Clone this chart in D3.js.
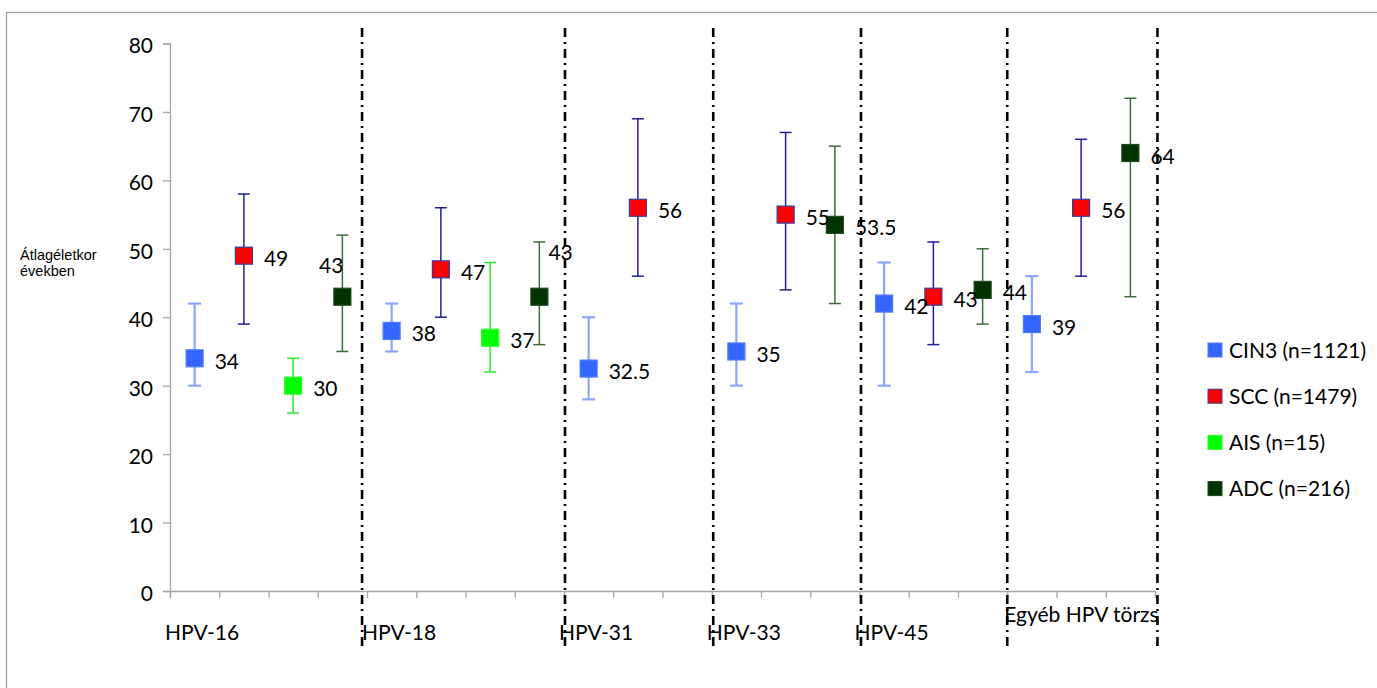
<!DOCTYPE html>
<html><head><meta charset="utf-8">
<script src="https://cdn.jsdelivr.net/npm/d3@7"></script>
<style>body{margin:0;background:#fff} svg{display:block}</style>
</head><body><svg id="c" width="1377" height="688"></svg>
<script>
// ---------- data ----------
const groups = ["HPV-16", "HPV-18", "HPV-31", "HPV-33", "HPV-45", "Egyéb HPV törzs"];
// category slots (series) shown within each HPV group on the x axis
const groupSlots = [
  ["CIN3", "SCC", "AIS", "ADC"],
  ["CIN3", "SCC", "AIS", "ADC"],
  ["CIN3", "SCC", "ADC"],
  ["CIN3", "SCC", "ADC"],
  ["CIN3", "SCC", "ADC"],
  ["CIN3", "SCC", "ADC"]
];
const seriesNames = ["CIN3", "SCC", "AIS", "ADC"];
const legendLabels = ["CIN3 (n=1121)", "SCC (n=1479)", "AIS (n=15)", "ADC (n=216)"];

const cin3Mean = [34, 38, 32.5, 35, 42, 39];
const cin3Low  = [30, 35, 28, 30, 30, 32];
const cin3High = [42, 42, 40, 42, 48, 46];

const sccMean = [49, 47, 56, 55, 43, 56];
const sccLow  = [39, 40, 46, 44, 36, 46];
const sccHigh = [58, 56, 69, 67, 51, 66];

const aisMean = [30, 37, null, null, null, null];
const aisLow  = [26, 32, null, null, null, null];
const aisHigh = [34, 48, null, null, null, null];

const adcMean = [43, 43, null, 53.5, 44, 64];
const adcLow  = [35, 36, null, 42, 39, 43];
const adcHigh = [52, 51, null, 65, 50, 72];

const yTicks = [0, 10, 20, 30, 40, 50, 60, 70, 80];
const yTitle = ["Átlagéletkor", "években"];
// dash-dot separator lines, in category-slot units
const separatorAt = [3.9, 8.02, 11.03, 14.03, 17.0, 20.05];

// ---------- styles ----------
const style = {
  CIN3: {fill: "#3366ff", stroke: "#4f7bff", bar: "#8aa6ff", barW: 2.2, cap: 13},
  SCC:  {fill: "#ff0000", stroke: "#3a3a9a", bar: "#1f1f99", barW: 1.5, cap: 12},
  AIS:  {fill: "#00ff00", stroke: "#2bff2b", bar: "#2ee82e", barW: 1.5, cap: 12},
  ADC:  {fill: "#003300", stroke: "#1b4a1b", bar: "#3d6b3d", barW: 1.5, cap: 12}
};
// label placement tweaks (dx, dy, anchor) for specific points
const labelTweak = {
  "ADC|HPV-16": {dx: 1, dy: -31, anchor: "end"},
  "ADC|HPV-18": {dx: 9, dy: -44, anchor: "start"}
};

const seriesData = {
  CIN3: {mean: cin3Mean, low: cin3Low, high: cin3High},
  SCC:  {mean: sccMean, low: sccLow, high: sccHigh},
  AIS:  {mean: aisMean, low: aisLow, high: aisHigh},
  ADC:  {mean: adcMean, low: adcLow, high: adcHigh}
};

// build slot table
const slots = [];
const groupStart = [];
groups.forEach((g, gi) => {
  groupStart.push(slots.length);
  groupSlots[gi].forEach(s => slots.push({group: g, gi, series: s}));
});
const nSlots = slots.length;

const points = [];
slots.forEach((sl, i) => {
  const d = seriesData[sl.series];
  const m = d.mean[sl.gi];
  if (m != null) points.push({i, series: sl.series, group: sl.group, mean: m, low: d.low[sl.gi], high: d.high[sl.gi]});
});

// ---------- layout ----------
const FONT = "Lato, 'Open Sans', sans-serif";
const FS = 21;
const svg = d3.select("#c");
const x = d3.scaleLinear().domain([0, nSlots]).range([170, 1155]);
const y = d3.scaleLinear().domain([0, 80]).range([591, 43.5]);
const axisCol = "#a6a6a6";

// outer frame
svg.append("rect").attr("x", 6.5).attr("y", 12.5).attr("width", 1400).attr("height", 700)
  .attr("fill", "none").attr("stroke", "#a0a0a0").attr("stroke-width", 1.3);

// y axis
const yAxis = d3.axisLeft(y).tickValues(yTicks).tickSize(7).tickFormat(d3.format("d"));
const gy = svg.append("g").attr("transform", "translate(170,0)").call(yAxis);
gy.select(".domain").attr("stroke", axisCol).attr("stroke-width", 1.3);
gy.selectAll(".tick line").attr("stroke", axisCol).attr("stroke-width", 1.3);
gy.selectAll(".tick text").attr("font-family", FONT).attr("font-size", FS).attr("fill", "#000")
  .attr("x", -17).attr("dy", "0.45em");

// x axis: ticks at every slot boundary
const xAxis = d3.axisBottom(x).tickValues(d3.range(0, nSlots + 1)).tickSize(7).tickFormat("");
const gx = svg.append("g").attr("transform", "translate(0,591)").call(xAxis);
gx.select(".domain").attr("stroke", axisCol).attr("stroke-width", 1.3);
gx.selectAll(".tick line").attr("stroke", axisCol).attr("stroke-width", 1.3);

// group labels
svg.append("g").selectAll("text").data(groups).join("text")
  .attr("x", (d, i) => x(groupStart[i]) - 5 + (i === 5 ? 2 : 0))
  .attr("y", (d, i) => i === 5 ? 622 : 640)
  .attr("font-family", FONT).attr("font-size", FS).attr("fill", "#000")
  .text(d => d);

// separators
svg.append("g").selectAll("line").data(separatorAt).join("line")
  .attr("x1", d => x(d)).attr("x2", d => x(d))
  .attr("y1", 28).attr("y2", 646)
  .attr("stroke", "#000").attr("stroke-width", 2.6)
  .attr("stroke-dasharray", "9,5,2,5");

// y title
svg.append("text").attr("font-family", "'Liberation Sans', Arial, sans-serif").attr("font-size", 14.5)
  .attr("fill", "#000")
  .selectAll("tspan").data(yTitle).join("tspan")
  .attr("x", 20).attr("y", (d, i) => 260 + i * 16).text(d => d);

// error bars
const cx = d => x(d.i + 0.5);
const eb = svg.append("g");
points.forEach(p => {
  const st = style[p.series];
  const g = eb.append("g").attr("stroke", st.bar).attr("stroke-width", st.barW);
  g.append("line").attr("x1", cx(p)).attr("x2", cx(p)).attr("y1", y(p.low)).attr("y2", y(p.high));
  g.append("line").attr("x1", cx(p) - st.cap / 2).attr("x2", cx(p) + st.cap / 2).attr("y1", y(p.low)).attr("y2", y(p.low));
  g.append("line").attr("x1", cx(p) - st.cap / 2).attr("x2", cx(p) + st.cap / 2).attr("y1", y(p.high)).attr("y2", y(p.high));
});

// markers
const MS = 17;
svg.append("g").selectAll("rect").data(points).join("rect")
  .attr("x", d => cx(d) - MS / 2).attr("y", d => y(d.mean) - MS / 2)
  .attr("width", MS).attr("height", MS)
  .attr("fill", d => style[d.series].fill)
  .attr("stroke", d => style[d.series].stroke).attr("stroke-width", 1.2);

// value labels
svg.append("g").selectAll("text").data(points).join("text")
  .attr("x", d => { const t = labelTweak[d.series + "|" + d.group]; return cx(d) + (t ? t.dx : 20); })
  .attr("y", d => { const t = labelTweak[d.series + "|" + d.group]; return y(d.mean) + (t ? t.dy : 3); })
  .attr("dy", "0.36em")
  .attr("text-anchor", d => { const t = labelTweak[d.series + "|" + d.group]; return t ? t.anchor : "start"; })
  .attr("font-family", FONT).attr("font-size", FS).attr("fill", "#000")
  .text(d => d.mean);

// legend
const lg = svg.append("g").selectAll("g").data(seriesNames).join("g")
  .attr("transform", (d, i) => `translate(1208,${350 + i * 46.2})`);
lg.append("rect").attr("x", 0).attr("y", -7).attr("width", 14).attr("height", 14)
  .attr("fill", d => style[d].fill).attr("stroke", d => style[d].stroke).attr("stroke-width", 1);
lg.append("text").attr("x", 21).attr("y", 0).attr("dy", "0.36em")
  .attr("font-family", FONT).attr("font-size", FS).attr("fill", "#000")
  .text((d, i) => legendLabels[i]);
</script>
</body></html>
